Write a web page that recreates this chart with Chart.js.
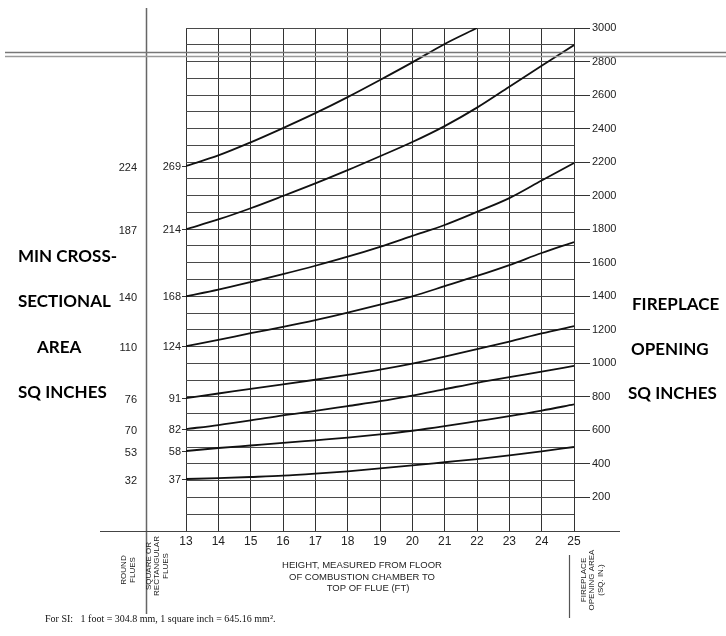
<!DOCTYPE html>
<html>
<head>
<meta charset="utf-8">
<script src="https://cdn.jsdelivr.net/npm/chart.js@4.4.1/dist/chart.umd.min.js"></script>
<style>
  html, body { margin: 0; padding: 0; background: #fff; }
  canvas { display: block; }
</style>
</head>
<body>
<canvas id="flueChart" width="726" height="636"></canvas>
<script>
// Altura de chimenea (ft) y area de abertura del hogar (sq in) por tamaño de conducto
const heightsFt = [13, 14, 15, 16, 17, 18, 19, 20, 21, 22, 23, 24, 25];
const area269 = [2177, 2240, 2318, 2403, 2492, 2588, 2690, 2795, 2905, 3000];
const area214 = [1800, 1858, 1925, 1998, 2073, 2152, 2235, 2320, 2415, 2525, 2650, 2775, 2898];
const area168 = [1400, 1440, 1485, 1532, 1582, 1636, 1695, 1760, 1825, 1903, 1985, 2090, 2195];
const area124 = [1103, 1140, 1180, 1217, 1257, 1302, 1350, 1400, 1460, 1521, 1586, 1658, 1723];
const area91 = [793, 820, 848, 874, 902, 931, 962, 998, 1040, 1085, 1130, 1178, 1222];
const area82 = [608, 632, 660, 690, 716, 745, 774, 808, 846, 884, 918, 950, 985];
const area58 = [477, 495, 510, 525, 541, 557, 576, 598, 625, 655, 685, 718, 755];
const area37 = [310, 315, 322, 330, 342, 356, 373, 391, 410, 429, 451, 475, 501];

const roundFlues = [224, 187, 140, 110, 76, 70, 53, 32];
const squareFlues = [269, 214, 168, 124, 91, 82, 58, 37];
const openingTicks = [200, 400, 600, 800, 1000, 1200, 1400, 1600, 1800, 2000, 2200, 2400, 2600, 2800, 3000];

const curves = [area269, area214, area168, area124, area91, area82, area58, area37];

const narrow = "'Liberation Sans Narrow', 'Liberation Sans', Arial, sans-serif";

// dibuja textos y lineas sueltas alrededor del grafico
const decoPlugin = {
  id: 'deco',
  beforeDraw(chart) {
    const c = chart.ctx;
    c.save();
    c.fillStyle = '#fff';
    c.fillRect(0, 0, chart.width, chart.height);
    c.restore();
  },
  afterDraw(chart) {
    const c = chart.ctx;
    const ys = chart.scales.y;
    const area = chart.chartArea;
    c.save();

    // linea vertical izquierda y linea base extendida
    c.strokeStyle = '#666';
    c.lineWidth = 1.5;
    c.beginPath(); c.moveTo(146.5, 8); c.lineTo(146.5, 614); c.stroke();
    c.strokeStyle = '#444';
    c.lineWidth = 1.2;
    c.beginPath(); c.moveTo(100, area.bottom + 0.5); c.lineTo(620, area.bottom + 0.5); c.stroke();
    c.strokeStyle = '#555';
    c.lineWidth = 1.2;
    c.beginPath(); c.moveTo(569.5, 555); c.lineTo(569.5, 618); c.stroke();

    // franja del escaneo
    c.strokeStyle = '#777';
    c.lineWidth = 1.6;
    c.beginPath(); c.moveTo(5, 52.5); c.lineTo(726, 52.5); c.stroke();
    c.strokeStyle = '#9a9a9a';
    c.beginPath(); c.moveTo(5, 56.5); c.lineTo(726, 56.5); c.stroke();

    // etiquetas de conductos
    c.fillStyle = '#222';
    c.font = '11px ' + narrow;
    c.textBaseline = 'middle';
    c.textAlign = 'right';
    c.strokeStyle = '#333';
    c.lineWidth = 1;
    squareFlues.forEach((v, i) => {
      const y = ys.getPixelForValue(curves[i][0]);
      c.fillText(String(v), 181, y + 1);
      c.fillText(String(roundFlues[i]), 137, y + 2);
      c.beginPath(); c.moveTo(182, Math.round(y) + 0.5); c.lineTo(area.left, Math.round(y) + 0.5); c.stroke();
    });

    // titulos grandes
    c.fillStyle = '#000';
    c.font = "bold 17px Lato, 'Open Sans', sans-serif";
    c.textAlign = 'left';
    c.fillText('MIN CROSS-', 18, 257);
    c.fillText('SECTIONAL', 18, 302);
    c.fillText('AREA', 37, 348);
    c.fillText('SQ INCHES', 18, 393);
    c.fillText('FIREPLACE', 632, 305);
    c.fillText('OPENING', 631, 350);
    c.fillText('SQ INCHES', 628, 394);

    // titulo del eje x
    c.fillStyle = '#222';
    c.font = '9.5px ' + narrow;
    c.textAlign = 'center';
    c.fillText('HEIGHT, MEASURED FROM FLOOR', 362, 565);
    c.fillText('OF COMBUSTION CHAMBER TO', 362, 577);
    c.fillText('TOP OF FLUE (FT)', 368, 588);

    // textos verticales
    const vtext = (lines, cx, cy, gap) => {
      c.save();
      c.translate(cx, cy);
      c.rotate(-Math.PI / 2);
      c.font = '8px ' + narrow;
      c.textAlign = 'center';
      lines.forEach((t, k) => {
        c.fillText(t, 0, (k - (lines.length - 1) / 2) * gap);
      });
      c.restore();
    };
    vtext(['ROUND', 'FLUES'], 128, 570, 9);
    vtext(['SQUARE OR', 'RECTANGULAR', 'FLUES'], 157, 566, 8.5);
    vtext(['FIREPLACE', 'OPENING AREA', '(SQ. IN.)'], 592, 580, 8.5);

    // nota al pie
    c.fillStyle = '#111';
    c.font = "10px 'Liberation Serif', 'DejaVu Serif', serif";
    c.textAlign = 'left';
    c.fillText('For SI:   1 foot = 304.8 mm, 1 square inch = 645.16 mm².', 45, 619);

    c.restore();
  }
};

const ctx = document.getElementById('flueChart').getContext('2d');
new Chart(ctx, {
  type: 'line',
  data: {
    datasets: curves.map((serie, i) => ({
      label: String(squareFlues[i]),
      data: serie.map((v, k) => ({ x: heightsFt[k], y: v })),
      borderColor: '#111',
      borderWidth: 1.8,
      pointRadius: 0,
      fill: false,
      cubicInterpolationMode: 'monotone'
    }))
  },
  options: {
    responsive: false,
    animation: false,
    layout: { padding: { left: 186, top: 28, right: 0, bottom: 0 } },
    plugins: { legend: { display: false }, tooltip: { enabled: false } },
    scales: {
      x: {
        type: 'linear',
        min: 13, max: 25,
        afterFit: s => { s.height = 105; },
        ticks: {
          stepSize: 1,
          padding: 3,
          color: '#222',
          font: { family: narrow, size: 12 },
          callback: v => heightsFt.includes(v) ? v : ''
        },
        grid: { color: '#333', lineWidth: 1, drawTicks: false },
        border: { display: false }
      },
      y: {
        position: 'right',
        min: 0, max: 3000,
        afterFit: s => { s.width = 152; },
        ticks: {
          stepSize: 100,
          padding: 2,
          color: '#222',
          font: { family: narrow, size: 11 },
          autoSkip: false,
          callback: v => openingTicks.includes(v) ? v : ''
        },
        grid: {
          color: '#4a4a4a',
          lineWidth: 1,
          tickLength: 16,
          tickColor: c => openingTicks.includes(c.tick && c.tick.value) ? '#333' : 'rgba(0,0,0,0)'
        },
        border: { display: true, color: '#333' }
      }
    }
  },
  plugins: [decoPlugin]
});
</script>
</body>
</html>
